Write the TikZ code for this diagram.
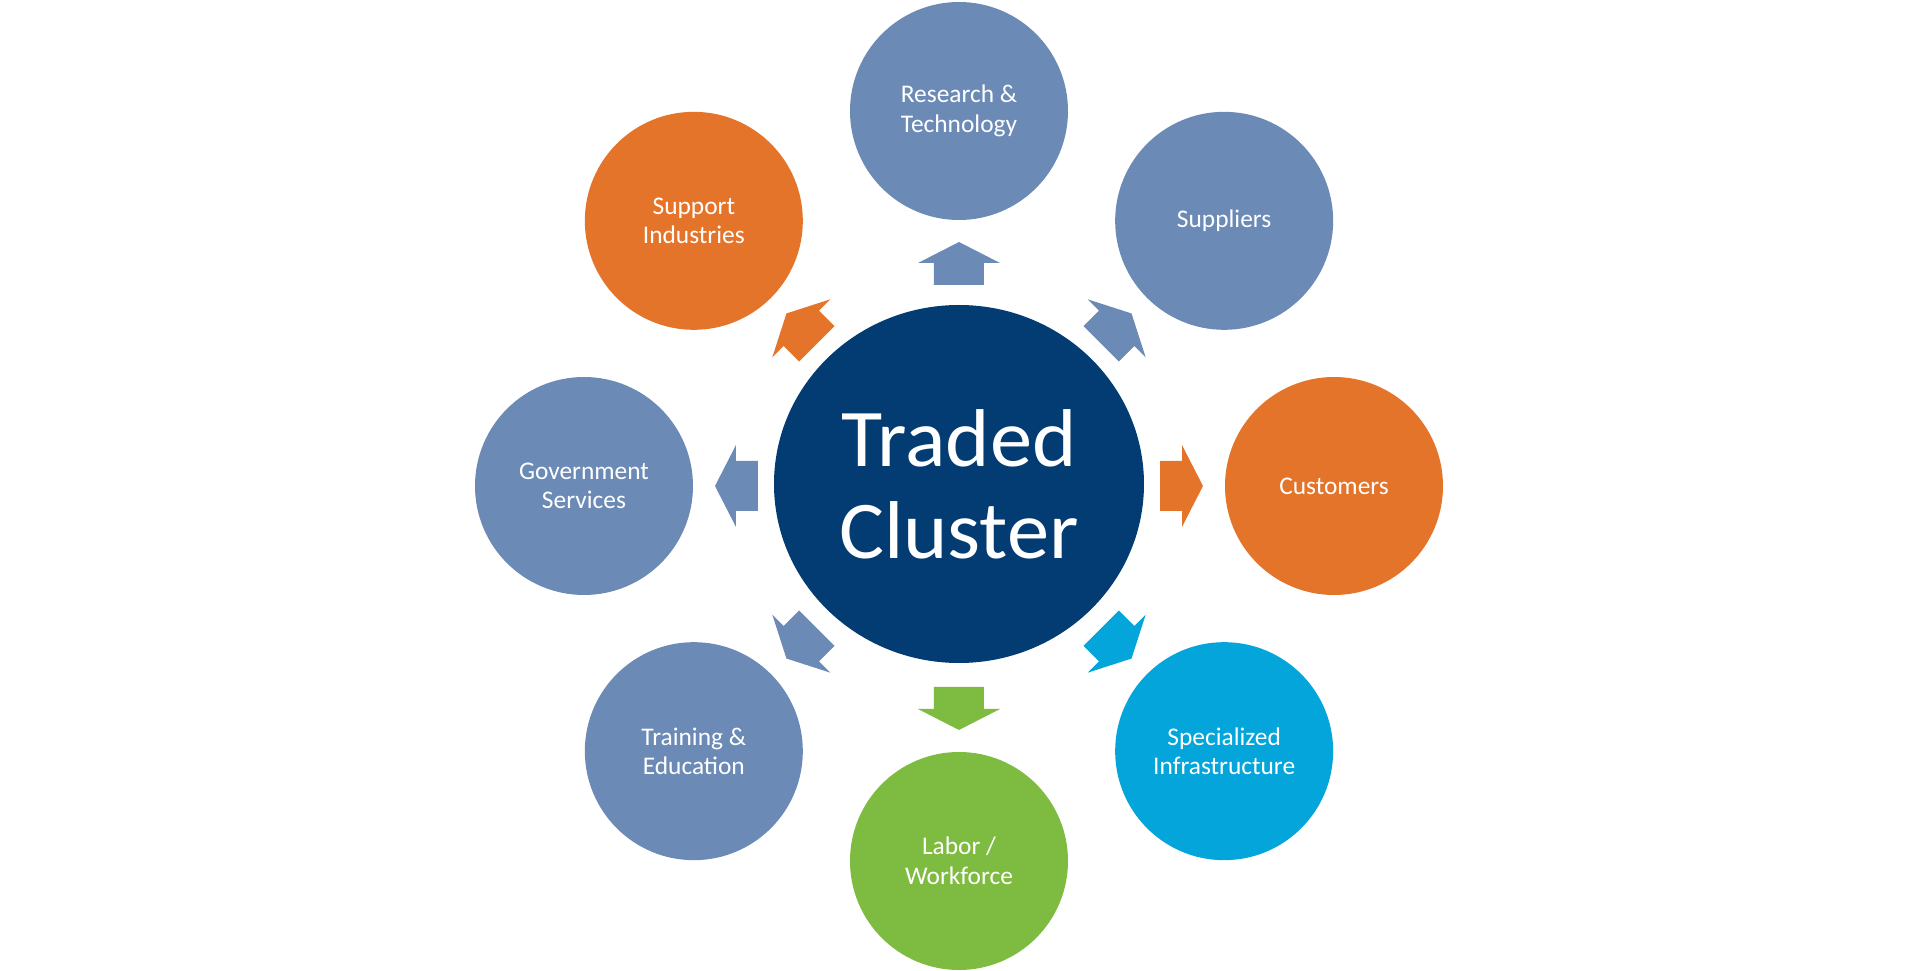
\documentclass[tikz,border=0pt]{standalone}
\usepackage{fontspec}
\setmainfont{Carlito}
\usetikzlibrary{shapes.geometric}
\definecolor{slate}{HTML}{6C8AB6}
\definecolor{orng}{HTML}{E5742B}
\definecolor{navy}{HTML}{033C73}
\definecolor{cyanb}{HTML}{03A5DB}
\definecolor{grn}{HTML}{7EBB41}
\tikzset{
  outer/.style={circle, minimum size=218pt, inner sep=0pt, text=white, align=center,
    font=\fontsize{25.4}{29.5}\selectfont},
  hub/.style={ellipse, minimum width=370pt, minimum height=358pt, inner sep=0pt, fill=navy,
    text=white, align=center, font=\fontsize{82}{92}\selectfont}
}
\newcommand{\blockarr}[2]{%
  \begin{scope}[rotate=#1]
    \fill[#2] (201,-25) -- (223,-25) -- (223,-41) -- (244,0) -- (223,41) -- (223,25) -- (201,25) -- cycle;
  \end{scope}}
\begin{document}
\begin{tikzpicture}[x=1pt,y=1pt]
\useasboundingbox (-959,-485) rectangle (961,486);
\node[hub] (hub) at (0,2) {\scalebox{1.03}[1]{Traded}\\\scalebox{1.03}[1]{Cluster}};
\node[outer, fill=slate] (research) at (90:375) {Research \&\\Technology};
\node[outer, fill=slate] (suppliers) at (45:375) {Suppliers};
\node[outer, fill=orng] (customers) at (0:375) {Customers};
\node[outer, fill=cyanb] (special) at (-45:375) {Specialized\\Infrastructure};
\node[outer, fill=grn] (labor) at (-90:375) {Labor /\\Workforce};
\node[outer, fill=slate] (training) at (-135:375) {Training \&\\Education};
\node[outer, fill=slate] (gov) at (180:375) {Government\\Services};
\node[outer, fill=orng] (support) at (135:375) {Support\\Industries};
\blockarr{90}{slate}
\blockarr{45}{slate}
\blockarr{0}{orng}
\blockarr{-45}{cyanb}
\blockarr{-90}{grn}
\blockarr{-135}{slate}
\blockarr{180}{slate}
\blockarr{135}{orng}
\end{tikzpicture}
\end{document}
